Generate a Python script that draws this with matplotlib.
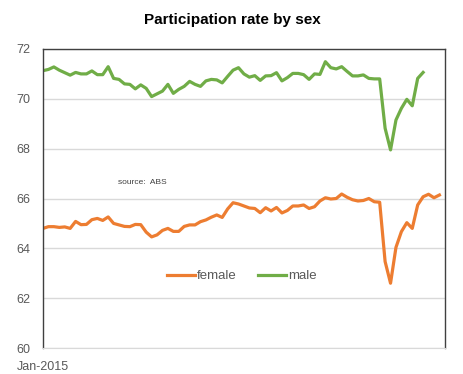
import matplotlib
matplotlib.use('Agg')
import matplotlib.pyplot as plt
import pandas as pd

# monthly participation rate (%), Jan-2015 onwards
months = pd.date_range('2015-01-01', periods=75, freq='MS')

male = [71.13, 71.18, 71.28, 71.15, 71.05, 70.95, 71.06, 71.00, 71.00, 71.12,
        70.97, 70.97, 71.29, 70.82, 70.78, 70.60, 70.58, 70.40, 70.56, 70.42,
        70.09, 70.20, 70.31, 70.58, 70.22, 70.38, 70.50, 70.70, 70.58, 70.50,
        70.72, 70.78, 70.76, 70.64, 70.90, 71.15, 71.25, 71.00, 70.87, 70.93,
        70.74, 70.92, 70.93, 71.05, 70.72, 70.85, 71.02, 71.02, 70.97, 70.78,
        71.00, 70.98, 71.49, 71.25, 71.20, 71.29, 71.10, 70.92, 70.92, 70.96,
        70.82, 70.80, 70.80, 68.82, 67.95, 69.15, 69.62, 69.98, 69.72, 70.82,
        71.06]

female = [64.80, 64.87, 64.87, 64.84, 64.86, 64.80, 65.08, 64.95, 64.96, 65.15,
          65.20, 65.12, 65.26, 65.00, 64.94, 64.88, 64.87, 64.96, 64.95, 64.65,
          64.46, 64.54, 64.72, 64.80, 64.68, 64.68, 64.88, 64.94, 64.94, 65.07,
          65.14, 65.25, 65.34, 65.24, 65.58, 65.83, 65.78, 65.70, 65.62, 65.60,
          65.43, 65.63, 65.50, 65.64, 65.42, 65.52, 65.70, 65.70, 65.74, 65.60,
          65.67, 65.90, 66.03, 65.98, 66.00, 66.18, 66.05, 65.95, 65.90, 65.92,
          66.00, 65.87, 65.85, 63.47, 62.60, 64.04, 64.67, 65.03, 64.80, 65.74,
          66.07, 66.17, 66.03, 66.14]

plt.rcParams['font.family'] = ['Liberation Sans', 'DejaVu Sans']

fig = plt.figure(figsize=(4.64, 3.74), dpi=100)
ax = fig.add_axes([0.0927, 0.0695, 0.866, 0.7995])

ax.plot(range(len(female)), female, color='#ED7D31', linewidth=2.3, label='female',
        solid_joinstyle='round')
ax.plot(range(len(male)), male, color='#70AD47', linewidth=2.3, label='male',
        solid_joinstyle='round')

ax.set_ylim(60, 72)
ax.set_xlim(0, len(months) - 1)
ax.set_yticks(range(60, 73, 2))
ax.yaxis.grid(True, color='#d9d9d9', linewidth=1)
ax.set_axisbelow(True)
ax.tick_params(axis='y', length=0, pad=9, labelsize=9, labelcolor='#595959')
ax.tick_params(axis='x', length=0, pad=9, labelsize=9, labelcolor='#595959')
ax.set_xticks([0], [months[0].strftime('%b-%Y')])

for side in ['left', 'top', 'right']:
    ax.spines[side].set_color('#404040')
    ax.spines[side].set_linewidth(1)
ax.spines['bottom'].set_color('#d9d9d9')

ax.text(0.187, 0.55, 'source:  ABS', transform=ax.transAxes, fontsize=6, color='#404040')

ax.legend(loc='center', bbox_to_anchor=(0.495, 0.24), ncol=2, frameon=False,
          fontsize=9.5, handlelength=2.1, columnspacing=1.6, handletextpad=0.15,
          labelcolor='#595959')

fig.suptitle('Participation rate by sex', fontsize=11, fontweight='bold', y=0.965)

fig.savefig('out.png', dpi=100)
